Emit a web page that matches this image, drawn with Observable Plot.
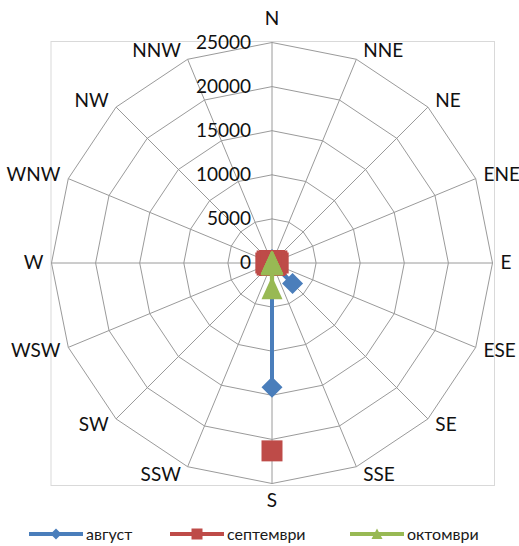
<!DOCTYPE html>
<html>
<head>
<meta charset="utf-8">
<script src="https://cdn.jsdelivr.net/npm/d3@7"></script>
<script src="https://cdn.jsdelivr.net/npm/@observablehq/plot@0.6"></script>
<style>
  html, body { margin: 0; padding: 0; background: #fff; }
  #chart { width: 519px; }
  #legend {
    width: 519px; height: 30px; position: relative;
    font-family: Lato, "Open Sans", sans-serif; font-size: 16px; color: #1a1a1a;
  }
  .item { display: flex; align-items: center; position: absolute; top: 8px; }
  .item svg { margin-right: 3px; }
</style>
</head>
<body>
<div id="chart"></div>
<div id="legend"></div>
<script>
// Wind directions, clockwise from north
const directions = ["N","NNE","NE","ENE","E","ESE","SE","SSE","S","SSW","SW","WSW","W","WNW","NW","NNW"];
// Radial rings and their labels
const ringValues = [0, 5000, 10000, 15000, 20000, 25000];
const seriesNames = ["август", "септември", "октомври"];
// Values per direction (null = no value)
const avgust    = [400, 150, 200, 200, 200, 300, 3300, 0, 14100, 0, 200, 200, 200, 200, 200, 150];
const septemvri = [250, 300, 400, 600, 700, 500, 400, null, 21300, null, 400, 600, 700, 600, 400, 300];
const oktomvri  = [100, 100, 100, 100, 100, 100, 100, 100, 2800, 100, 100, 100, 100, 100, 100, 100];

const colors = ["#4A7EBB", "#BE4B48", "#98B954"];
const maxValue = 25000;
const unitsPerPx = maxValue / 220.5;

const angle = i => (i * 22.5) * Math.PI / 180;
const polar = (v, i) => (v == null ? {x: NaN, y: NaN} : {x: v * Math.sin(angle(i)), y: v * Math.cos(angle(i))});

// Grid rings (closed 16-gons)
const rings = ringValues.filter(r => r > 0).flatMap(r =>
  d3.range(17).map(j => ({ring: r, ...polar(r, j % 16)})));
// Spokes
const spokes = directions.map((d, i) => ({...polar(maxValue, i)}));

// Direction labels just outside the outer ring
const dirLabels = directions.map((d, i) => {
  const s = Math.sin(angle(i)), c = Math.cos(angle(i));
  const v = polar(maxValue, i);
  let ox, oy, anchor;
  if (Math.abs(s) < 0.1) {
    ox = 0; oy = c > 0 ? 24 : -17; anchor = "middle";
  } else {
    ox = 6 * Math.sign(s) + 2 * s; oy = 9 * c; anchor = s > 0 ? "start" : "end";
  }
  return {label: d, x: v.x + ox * unitsPerPx, y: v.y + oy * unitsPerPx, anchor};
});
const labelMarks = ["start", "middle", "end"].map(a =>
  Plot.text(dirLabels.filter(d => d.anchor === a), {x: "x", y: "y", text: "label", textAnchor: a, fontSize: 19, fill: "#111"}));

// Custom marker symbols (pixel sized)
const diamond = {draw(ctx) { const h = 10.5; ctx.moveTo(0, -h); ctx.lineTo(h, 0); ctx.lineTo(0, h); ctx.lineTo(-h, 0); ctx.closePath(); }};
const square = {draw(ctx) { const h = 10.5; ctx.rect(-h, -h, 2 * h, 2 * h); }};
const triangle = {draw(ctx) { const w = 10.5, h = 11.5; ctx.moveTo(0, -h); ctx.lineTo(w, h); ctx.lineTo(-w, h); ctx.closePath(); }};
const symbols = [diamond, square, triangle];

const allSeries = [avgust, septemvri, oktomvri];
const seriesMarks = allSeries.flatMap((vals, k) => {
  const pts = vals.map((v, i) => ({...polar(v, i)}));
  const closed = [...pts, pts[0]];
  return [
    Plot.line(closed, {x: "x", y: "y", stroke: colors[k], strokeWidth: 4, strokeLinejoin: "round", curve: "linear"}),
    Plot.dot(pts.filter(p => !isNaN(p.x)), {x: "x", y: "y", fill: colors[k], stroke: "none", symbol: () => symbols[k], r: 10})
  ];
});

const chart = Plot.plot({
  width: 519,
  height: 516,
  marginLeft: 50.5,
  marginRight: 25,
  marginTop: 41,
  marginBottom: 31,
  x: {axis: null, domain: [-221 * unitsPerPx, 222.5 * unitsPerPx]},
  y: {axis: null, domain: [-222.5 * unitsPerPx, 221.5 * unitsPerPx]},
  symbol: {type: "identity"},
  style: {fontFamily: "Lato, 'Open Sans', sans-serif", background: "#fff"},
  marks: [
    Plot.frame({stroke: "#d9d9d9"}),
    Plot.line(rings, {x: "x", y: "y", z: "ring", stroke: "#9a9a9a", strokeWidth: 1}),
    Plot.link(spokes, {x1: 0, y1: 0, x2: "x", y2: "y", stroke: "#9a9a9a", strokeWidth: 1}),
    Plot.text(ringValues, {x: 0, y: d => d, text: d => String(d), textAnchor: "end", dx: -21, fontSize: 19, fill: "#111"}),
    ...labelMarks,
    ...seriesMarks
  ]
});
document.getElementById("chart").append(chart);

// Legend below the chart
const legendPaths = [
  "M0,-5.5L5.5,0L0,5.5L-5.5,0Z",
  "M-5.5,-5.5H5.5V5.5H-5.5Z",
  "M0,-5.5L5.5,5L-5.5,5Z"
];
const legend = d3.select("#legend");
const itemX = [29, 170, 350];
seriesNames.forEach((name, k) => {
  const item = legend.append("div").attr("class", "item").style("left", itemX[k] + "px");
  const svg = item.append("svg").attr("width", 54).attr("height", 14);
  svg.append("line").attr("x1", 0).attr("x2", 54).attr("y1", 7).attr("y2", 7).attr("stroke", colors[k]).attr("stroke-width", 4);
  svg.append("path").attr("d", legendPaths[k]).attr("transform", "translate(27,7)").attr("fill", colors[k]);
  item.append("span").text(name);
});
</script>
</body>
</html>
